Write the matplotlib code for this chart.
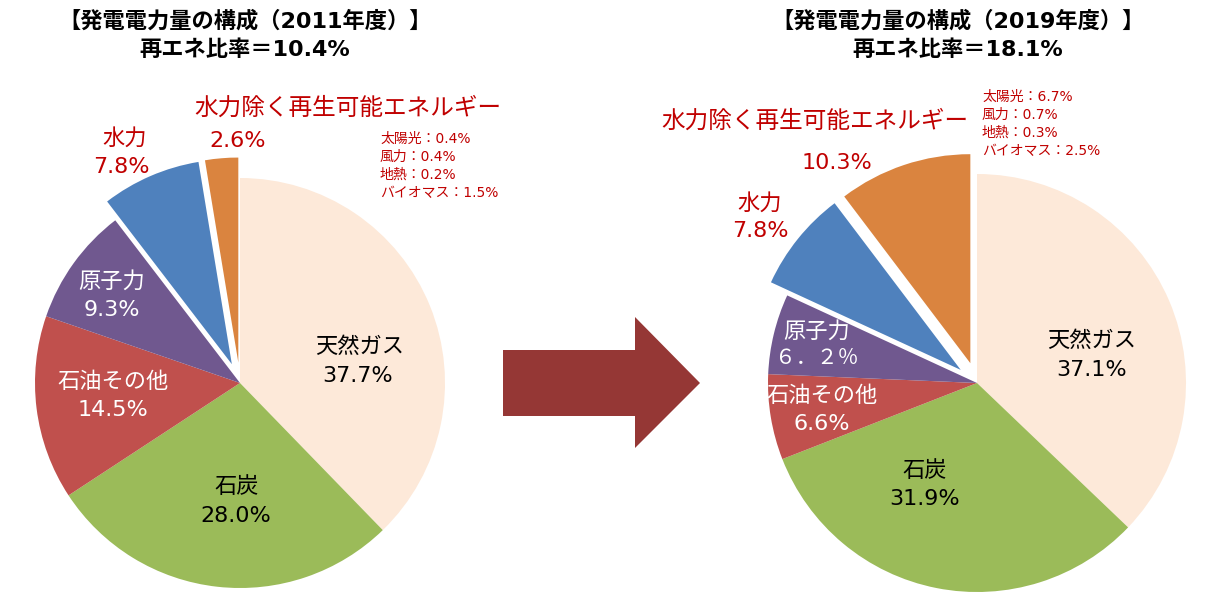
import matplotlib
matplotlib.use("Agg")
import matplotlib.pyplot as plt
from matplotlib.patches import Polygon

plt.rcParams['font.family'] = ['DejaVu Sans', 'Noto Sans CJK JP']

W, H = 1224, 607

# データ
sources = ['天然ガス', '石炭', '石油その他', '原子力', '水力', '水力除く再生可能エネルギー']
share_2011 = [37.7, 28.0, 14.5, 9.3, 7.8, 2.6]
share_2019 = [37.1, 31.9, 6.6, 6.2, 7.8, 10.3]
re_detail_2011 = ['太陽光：0.4%', '風力：0.4%', '地熱：0.2%', 'バイオマス：1.5%']
re_detail_2019 = ['太陽光：6.7%', '風力：0.7%', '地熱：0.3%', 'バイオマス：2.5%']
colors = ['#FDE9D9', '#9BBB59', '#C0504D', '#70588F', '#4F81BD', '#DA843F']
red = '#C00000'

fig = plt.figure(figsize=(W / 100, H / 100), dpi=100)
ax = fig.add_axes([0, 0, 1, 1])

def Y(y):
    # 上からのピクセル位置 -> データ座標
    return H - y

for vals, cx, cy, r in [(share_2011, 240, 383, 205), (share_2019, 977, 383, 209)]:
    # explode はデータ単位なので半径を掛ける
    ex = [0, 0, 0, 0, 0.1 * r, 0.1 * r]
    ax.pie(vals, colors=colors, explode=ex, startangle=90, counterclock=False,
           center=(cx, Y(cy)), radius=r, frame=True,
           wedgeprops=dict(edgecolor='none', linewidth=0))

ax.set_xlim(0, W)
ax.set_ylim(0, H)
ax.set_aspect('equal')
ax.axis('off')

# 矢印
arrow = Polygon([(503, Y(350)), (635, Y(350)), (635, Y(317)), (700, Y(383)),
                 (635, Y(448)), (635, Y(416)), (503, Y(416))],
                closed=True, facecolor='#953735', edgecolor='none')
ax.add_patch(arrow)

# タイトル
tfs = 16
ax.text(245, Y(21), '【発電電力量の構成（2011年度）】', ha='center', va='center', fontsize=tfs, fontweight='bold')
ax.text(245, Y(50), '再エネ比率＝10.4%', ha='center', va='center', fontsize=tfs, fontweight='bold')
ax.text(958, Y(21), '【発電電力量の構成（2019年度）】', ha='center', va='center', fontsize=tfs, fontweight='bold')
ax.text(958, Y(50), '再エネ比率＝18.1%', ha='center', va='center', fontsize=tfs, fontweight='bold')

fs = 16
def lab(x, y, s, c='black', size=fs):
    ax.text(x, Y(y), s, ha='center', va='center', fontsize=size, color=c)

# 2011
lab(360, 347, sources[0]); lab(358, 376, '37.7%')
lab(237, 487, sources[1]); lab(236, 516, '28.0%')
lab(113, 382, sources[2], 'white'); lab(113, 410, '14.5%', 'white')
lab(112, 281, sources[3], 'white'); lab(112, 310, '9.3%', 'white')
lab(125, 138, sources[4], red); lab(121, 167, '7.8%', red)
lab(238, 141, '2.6%', red)
lab(348, 108, sources[5], red, 17)
for i, s in enumerate(re_detail_2011):
    ax.text(380, Y(139 + 18 * i), s, ha='left', va='center', fontsize=10, color=red)

# 2019
lab(1092, 341, sources[0]); lab(1092, 370, '37.1%')
lab(925, 471, sources[1]); lab(925, 499, '31.9%')
lab(822, 396, sources[2], 'white'); lab(822, 424, '6.6%', 'white')
lab(817, 331, sources[3], 'white'); lab(817, 358, '６．２％', 'white', 15)
lab(760, 203, sources[4], red); lab(760, 231, '7.8%', red)
lab(837, 163, '10.3%', red)
lab(815, 121, sources[5], red, 17)
for i, s in enumerate(re_detail_2019):
    ax.text(982, Y(97 + 18 * i), s, ha='left', va='center', fontsize=10, color=red)

fig.savefig('out.png', dpi=100, facecolor='white')
